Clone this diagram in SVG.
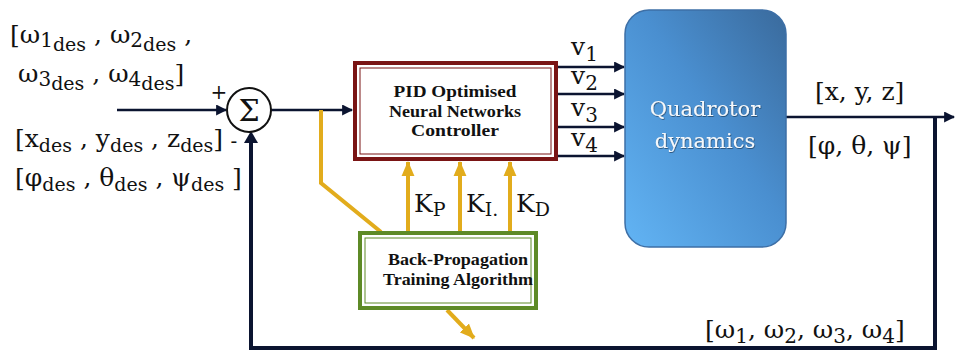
<svg xmlns="http://www.w3.org/2000/svg" width="955" height="351" viewBox="0 0 955 351">
  <defs>
    <linearGradient id="quadFill" x1="0" y1="1" x2="1" y2="0">
      <stop offset="0" stop-color="#62b4f4"/>
      <stop offset="0.55" stop-color="#4a8fd0"/>
      <stop offset="1" stop-color="#3a6a9c"/>
    </linearGradient>
    <filter id="textShadow" x="-10%" y="-30%" width="120%" height="160%">
      <feDropShadow dx="0.6" dy="0.8" stdDeviation="0.6" flood-color="#1d3550" flood-opacity="0.8"/>
    </filter>
    <marker id="arrowDark" viewBox="0 0 10 10" refX="9" refY="5" markerWidth="11" markerHeight="11" markerUnits="userSpaceOnUse" orient="auto">
      <path d="M0,0 L10,5 L0,10 Z" fill="#0b1430"/>
    </marker>
    <marker id="arrowGold" viewBox="0 0 14 12" refX="13" refY="6" markerWidth="15" markerHeight="14" markerUnits="userSpaceOnUse" orient="auto">
      <path d="M0,0 L14,6 L0,12 Z" fill="#e2ac1c"/>
    </marker>
  </defs>
  <style>
    .math { font-family: "DejaVu Serif", "Liberation Serif", serif; fill: #111; }
    .big { font-size: 25px; }
    .sub { font-size: 20px; }
    .subsub { font-size: 19px; }
    .boxtext { font-family: "Liberation Serif", "DejaVu Serif", serif; font-weight: bold; font-size: 17px; fill: #111; text-anchor: middle; }
    .wire { stroke: #0b1430; stroke-width: 2.5; fill: none; }
    .feedback { stroke: #0b1430; stroke-width: 4; fill: none; }
    .gold { stroke: #e2ac1c; stroke-width: 4; fill: none; }
  </style>

  <rect width="955" height="351" fill="#ffffff"/>

  <!-- connectors -->
  <g id="connectors">
    <!-- reference input into summing junction -->
    <line class="wire" x1="117" y1="110" x2="226" y2="110" marker-end="url(#arrowDark)"/>
    <!-- summing junction to controller -->
    <line class="wire" x1="271" y1="110" x2="352" y2="110" marker-end="url(#arrowDark)"/>
    <!-- controller outputs v1..v4 -->
    <line class="wire" x1="557" y1="67" x2="624" y2="67" marker-end="url(#arrowDark)"/>
    <line class="wire" x1="557" y1="94" x2="624" y2="94" marker-end="url(#arrowDark)"/>
    <line class="wire" x1="557" y1="127" x2="624" y2="127" marker-end="url(#arrowDark)"/>
    <line class="wire" x1="557" y1="156" x2="624" y2="156" marker-end="url(#arrowDark)"/>
    <!-- plant output -->
    <line class="wire" x1="786" y1="117" x2="954" y2="117" marker-end="url(#arrowDark)"/>
    <!-- feedback loop -->
    <polyline class="feedback" points="935,117 935,348 251,348 251,140"/>
    <path d="M244,143 L251,131 L258,143 Z" fill="#0b1430"/>
    <!-- error tap to training block -->
    <polyline class="gold" points="321,110 321,183 381,232"/>
    <!-- gain updates -->
    <line class="gold" x1="408" y1="232" x2="408" y2="162" marker-end="url(#arrowGold)"/>
    <line class="gold" x1="460" y1="232" x2="460" y2="162" marker-end="url(#arrowGold)"/>
    <line class="gold" x1="510" y1="232" x2="510" y2="162" marker-end="url(#arrowGold)"/>
    <!-- training output -->
    <line class="gold" x1="447" y1="310" x2="474" y2="338" marker-end="url(#arrowGold)"/>
  </g>

  <!-- summing junction -->
  <g id="sum">
    <circle cx="249" cy="110" r="22" fill="#fff" stroke="#111" stroke-width="2"/>
    <text x="249" y="121" text-anchor="middle" font-family="DejaVu Serif, Liberation Serif, serif" font-size="30" fill="#111">Σ</text>
    <text x="219" y="99" text-anchor="middle" font-family="DejaVu Serif, serif" font-size="20" fill="#111">+</text>
    <text x="234" y="148" text-anchor="middle" font-family="DejaVu Serif, serif" font-size="20" fill="#111">-</text>
  </g>

  <!-- controller -->
  <g id="pid">
    <rect x="355" y="63" width="201" height="96" fill="#fff" stroke="#7a1414" stroke-width="4"/>
    <rect x="360" y="68" width="191" height="86" fill="none" stroke="#7a1414" stroke-width="1"/>
    <text class="boxtext" x="455" y="97" textLength="123" lengthAdjust="spacingAndGlyphs">PID Optimised</text>
    <text class="boxtext" x="455" y="117" textLength="132" lengthAdjust="spacingAndGlyphs">Neural Networks</text>
    <text class="boxtext" x="455" y="136" textLength="88" lengthAdjust="spacingAndGlyphs">Controller</text>
  </g>

  <!-- training block -->
  <g id="bp">
    <rect x="360" y="233" width="176" height="75" fill="#fff" stroke="#5e8a26" stroke-width="4"/>
    <rect x="365" y="238" width="166" height="65" fill="none" stroke="#5e8a26" stroke-width="1"/>
    <text class="boxtext" x="458" y="265" textLength="140" lengthAdjust="spacingAndGlyphs">Back-Propagation</text>
    <text class="boxtext" x="458" y="285" textLength="150" lengthAdjust="spacingAndGlyphs">Training Algorithm</text>
  </g>

  <!-- plant -->
  <g id="quadrotor">
    <rect x="625" y="10" width="161" height="237" rx="24" ry="24" fill="url(#quadFill)" stroke="#3d6fa6" stroke-width="1.5"/>
    <g filter="url(#textShadow)" font-family="DejaVu Serif, Liberation Serif, serif" font-size="21" fill="#f4f8fc" text-anchor="middle">
      <text x="705" y="116">Quadrotor</text>
      <text x="705" y="148">dynamics</text>
    </g>
  </g>

  <!-- signal labels -->
  <g id="labels" class="math">
    <text class="big" x="10" y="43">[ω<tspan class="sub" dy="4">1</tspan><tspan class="subsub" dy="4">des</tspan><tspan class="big" dy="-8"> , ω</tspan><tspan class="sub" dy="4">2</tspan><tspan class="subsub" dy="4">des</tspan><tspan class="big" dy="-8"> ,</tspan></text>
    <text class="big" x="18" y="82">ω<tspan class="sub" dy="4">3</tspan><tspan class="subsub" dy="4">des</tspan><tspan class="big" dy="-8"> , ω</tspan><tspan class="sub" dy="4">4</tspan><tspan class="subsub" dy="4">des</tspan><tspan class="big" dy="-8">]</tspan></text>
    <text class="big" x="15" y="147">[x<tspan class="subsub" dy="5">des</tspan><tspan class="big" dy="-5"> , y</tspan><tspan class="subsub" dy="5">des</tspan><tspan class="big" dy="-5"> , z</tspan><tspan class="subsub" dy="5">des</tspan><tspan class="big" dy="-5">]</tspan></text>
    <text class="big" x="15" y="186">[φ<tspan class="subsub" dy="5">des</tspan><tspan class="big" dy="-5"> , θ</tspan><tspan class="subsub" dy="5">des</tspan><tspan class="big" dy="-5"> , ψ</tspan><tspan class="subsub" dy="5">des</tspan><tspan class="big" dy="-5"> ]</tspan></text>

    <text class="big" x="571" y="55">v<tspan class="sub" dy="6">1</tspan></text>
    <text class="big" x="571" y="84">v<tspan class="sub" dy="6">2</tspan></text>
    <text class="big" x="571" y="116">v<tspan class="sub" dy="6">3</tspan></text>
    <text class="big" x="571" y="146">v<tspan class="sub" dy="6">4</tspan></text>

    <text class="big" x="414" y="212">K<tspan class="subsub" dy="4">P</tspan></text>
    <text class="big" x="466" y="212">K<tspan class="subsub" dy="4">I.</tspan></text>
    <text class="big" x="516" y="212">K<tspan class="subsub" dy="4">D</tspan></text>

    <text class="big" x="815" y="100">[x, y, z]</text>
    <text class="big" x="808" y="154">[φ, θ, ψ]</text>
    <text class="big" x="705" y="338">[ω<tspan class="sub" dy="5">1</tspan><tspan class="big" dy="-5">, ω</tspan><tspan class="sub" dy="5">2</tspan><tspan class="big" dy="-5">, ω</tspan><tspan class="sub" dy="5">3</tspan><tspan class="big" dy="-5">, ω</tspan><tspan class="sub" dy="5">4</tspan><tspan class="big" dy="-5">]</tspan></text>
  </g>
</svg>
